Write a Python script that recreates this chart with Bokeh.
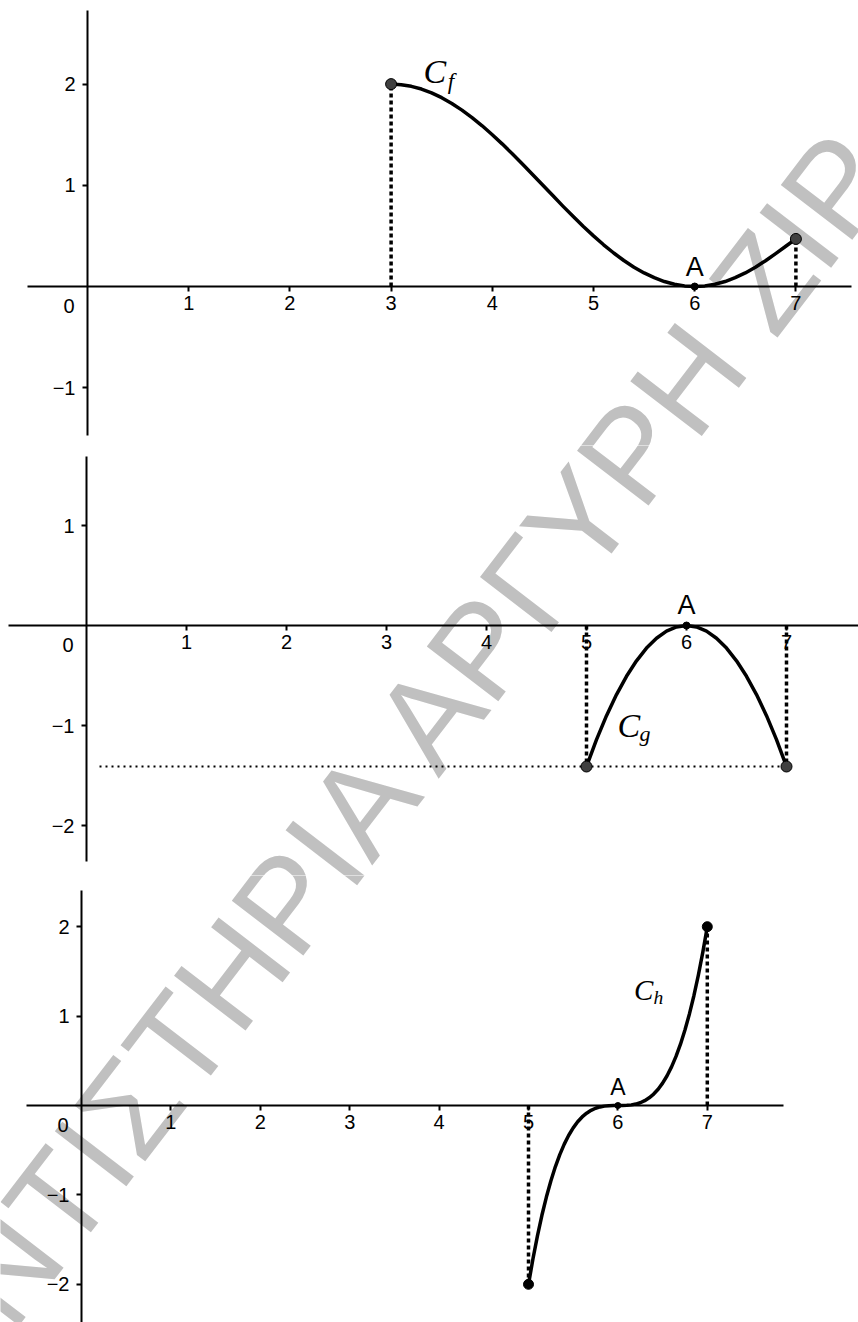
import numpy as np
from bokeh.plotting import figure
from bokeh.models import LinearAxis, FixedTicker, Range1d
from bokeh.layouts import column
from bokeh.embed import file_html
from bokeh.resources import INLINE
from bokeh.core.properties import value

# ---------------- data ----------------
# C_f : graph of f on [3, 7]
f_x = [3.0, 3.1, 3.2, 3.3, 3.4, 3.5, 3.6, 3.7, 3.8, 3.9,
       4.0, 4.1, 4.2, 4.3, 4.4, 4.5, 4.6, 4.7, 4.8, 4.9,
       5.0, 5.1, 5.2, 5.3, 5.4, 5.5, 5.6, 5.7, 5.8, 5.9,
       6.0, 6.1, 6.2, 6.3, 6.4, 6.5, 6.6, 6.7, 6.8, 6.9, 7.0]
f_y = [2.00, 1.994, 1.978, 1.951, 1.914, 1.866, 1.809, 1.743, 1.669, 1.588,
       1.500, 1.407, 1.309, 1.208, 1.105, 1.000, 0.896, 0.792, 0.691, 0.593,
       0.500, 0.412, 0.331, 0.257, 0.191, 0.134, 0.087, 0.049, 0.022, 0.006,
       0.000, 0.006, 0.022, 0.049, 0.087, 0.134, 0.190, 0.255, 0.325, 0.398, 0.47]

# C_g : graph of g on [5, 7]
g_x = [5.0, 5.1, 5.2, 5.3, 5.4, 5.5, 5.6, 5.7, 5.8, 5.9, 6.0,
       6.1, 6.2, 6.3, 6.4, 6.5, 6.6, 6.7, 6.8, 6.9, 7.0]
g_y = [-1.41, -1.142, -0.902, -0.691, -0.508, -0.353, -0.226, -0.127, -0.056, -0.014, 0.0,
       -0.014, -0.056, -0.127, -0.226, -0.353, -0.508, -0.691, -0.902, -1.142, -1.41]

# C_h : graph of h on [5, 7]
h_x = [5.00, 5.05, 5.10, 5.15, 5.20, 5.25, 5.30, 5.35, 5.40, 5.45,
       5.50, 5.55, 5.60, 5.65, 5.70, 5.75, 5.80, 5.85, 5.90, 5.95,
       6.00, 6.05, 6.10, 6.15, 6.20, 6.25, 6.30, 6.35, 6.40, 6.45,
       6.50, 6.55, 6.60, 6.65, 6.70, 6.75, 6.80, 6.85, 6.90, 6.95, 7.00]
h_y = [-2.000, -1.715, -1.458, -1.228, -1.024, -0.844, -0.686, -0.549, -0.432, -0.333,
       -0.250, -0.182, -0.128, -0.086, -0.054, -0.031, -0.016, -0.007, -0.002, -0.000,
       0.000, 0.000, 0.002, 0.007, 0.016, 0.031, 0.054, 0.086, 0.128, 0.182,
       0.250, 0.333, 0.432, 0.549, 0.686, 0.844, 1.024, 1.228, 1.458, 1.715, 2.000]

# common point A
A_x, A_y = 6.0, 0.0

x_ticks = [1, 2, 3, 4, 5, 6, 7]
y_ticks_f = [-1, 1, 2]
y_ticks_g = [-2, -1, 1]
y_ticks_h = [-2, -1, 1, 2]
tick_text = {-2: "\u22122", -1: "\u22121"}

# ---------------- styling ----------------
PAGE_W = 858
SANS = "Liberation Sans"
SERIF = "Liberation Serif"
INK = "black"
POINT_FILL = "#404040"
WM_COLOR = "#c0c0c0"
WM_TEXT = "ΝΤΙΣΤΗΡΙΑ ΑΡΓΥΡΗ ΖΙΡ"
WM_ANCHOR = (-24, 1306)       # page pixels, left end of the text's middle line
WM_ANGLE = np.deg2rad(52.5)
WM_SIZE = "131px"
TICK_SIZE = "20px"


def make_panel(top, height, ox, oy, ppu, xline, yline, yticks):
    """One coordinate system; (ox, oy) is the origin in page pixels."""
    p = figure(width=PAGE_W, height=height,
               x_range=Range1d(-ox / ppu, (PAGE_W - ox) / ppu),
               y_range=Range1d((oy - top - height) / ppu, (oy - top) / ppu),
               x_axis_type=None, y_axis_type=None,
               toolbar_location=None, output_backend="svg",
               min_border=0, outline_line_color=None,
               background_fill_color="white", border_fill_color="white")

    # background lettering
    wm = p.text(x=[(WM_ANCHOR[0] - ox) / ppu], y=[(oy - WM_ANCHOR[1]) / ppu],
                text=[WM_TEXT], angle=WM_ANGLE,
                text_font=value(SANS), text_font_size=value(WM_SIZE),
                text_color=WM_COLOR, text_align="left",
                text_baseline="middle")
    wm.level = "underlay"

    xa = LinearAxis(fixed_location=0, ticker=FixedTicker(ticks=x_ticks),
                    bounds=((xline[0] - ox) / ppu, (xline[1] - ox) / ppu))
    ya = LinearAxis(fixed_location=0, ticker=FixedTicker(ticks=yticks),
                    bounds=((oy - yline[1]) / ppu, (oy - yline[0]) / ppu),
                    major_label_overrides=tick_text)
    for ax, standoff in ((xa, 4), (ya, 7)):
        ax.axis_line_color = INK
        ax.axis_line_width = 2
        ax.major_tick_line_color = INK
        ax.major_tick_line_width = 2
        ax.major_tick_out = 5
        ax.major_tick_in = 0
        ax.minor_tick_out = 0
        ax.minor_tick_in = 0
        ax.major_label_text_font = SANS
        ax.major_label_text_font_size = TICK_SIZE
        ax.major_label_text_color = INK
        ax.major_label_standoff = standoff
    p.add_layout(xa, "below")
    p.add_layout(ya, "left")

    # the origin label sits to the lower left of the origin
    p.text(x=[-13 / ppu], y=[-19.5 / ppu], text=["0"],
           text_font=value(SANS), text_font_size=value(TICK_SIZE),
           text_color=INK, text_align="right", text_baseline="middle")
    return p


def curve_name(p, x, y, sub, sx, sy, size, sub_size):
    """Italic C with a subscript; (x, y) and (sx, sy) are the glyph middles."""
    p.text(x=[x], y=[y], text=["C"], text_font=value(SERIF),
           text_font_style="italic", text_font_size=value(size),
           text_color=INK, text_align="left", text_baseline="middle")
    p.text(x=[sx], y=[sy], text=[sub], text_font=value(SERIF),
           text_font_style="italic", text_font_size=value(sub_size),
           text_color=INK, text_align="left", text_baseline="middle")


def label_A(p, ppu, size, lift):
    p.text(x=[A_x], y=[A_y + lift / ppu], text=["A"], text_font=value(SANS),
           text_font_size=value(size), text_color=INK,
           text_align="center", text_baseline="middle")


DOTS = dict(line_color=INK, line_width=3.5, line_dash="4 3")
CURVE = dict(line_color=INK, line_width=3.5, line_join="round", line_cap="round")

# ---------------- panel 1 : C_f ----------------
ppu1 = 101.2
p1 = make_panel(0, 445, 87, 286, ppu1, (27, 851), (10, 435), y_ticks_f)
p1.segment(x0=[f_x[0], f_x[-1]], y0=[0, 0], x1=[f_x[0], f_x[-1]],
           y1=[f_y[0], f_y[-1]], **DOTS)
p1.line(f_x, f_y, **CURVE)
p1.scatter([f_x[0], f_x[-1]], [f_y[0], f_y[-1]], size=11,
           fill_color=POINT_FILL, line_color=INK, line_width=1)
p1.scatter([A_x], [A_y], size=7, fill_color=INK, line_color=INK)
label_A(p1, ppu1, "27px", 19.7)
curve_name(p1, 3.32, 2.12, "f", 3.56, 2.03, "34px", "23px")

# ---------------- panel 2 : C_g ----------------
ppu2 = 100.0
p2 = make_panel(445, 430, 86, 625, ppu2, (8, 858), (456, 861), y_ticks_g)
p2.segment(x0=[0.13], y0=[g_y[0]], x1=[g_x[-1]], y1=[g_y[-1]],
           line_color=INK, line_width=2, line_dash="2 4")
p2.segment(x0=[g_x[0], g_x[-1]], y0=[0, 0], x1=[g_x[0], g_x[-1]],
           y1=[g_y[0], g_y[-1]], **DOTS)
p2.line(g_x, g_y, **CURVE)
p2.scatter([g_x[0], g_x[-1]], [g_y[0], g_y[-1]], size=11,
           fill_color=POINT_FILL, line_color=INK, line_width=1)
p2.scatter([A_x], [A_y], size=7, fill_color=INK, line_color=INK)
label_A(p2, ppu2, "27px", 20.3)
curve_name(p2, 5.31, -0.995, "g", 5.53, -1.076, "34px", "22px")

# ---------------- panel 3 : C_h ----------------
ppu3 = 89.4
p3 = make_panel(875, 447, 81, 1105, ppu3, (26, 783), (890, 1330), y_ticks_h)
p3.segment(x0=[h_x[0], h_x[-1]], y0=[0, 0], x1=[h_x[0], h_x[-1]],
           y1=[h_y[0], h_y[-1]], **DOTS)
p3.line(h_x, h_y, **CURVE)
p3.scatter([h_x[0], h_x[-1]], [h_y[0], h_y[-1]], size=10,
           fill_color=INK, line_color=INK)
p3.scatter([A_x], [A_y], size=6, fill_color=INK, line_color=INK)
label_A(p3, ppu3, "23px", 18.5)
curve_name(p3, 6.18, 1.29, "h", 6.398, 1.211, "29px", "19.5px")

layout = column(p1, p2, p3, spacing=0)
open("out.html", "w").write(file_html(layout, INLINE))
